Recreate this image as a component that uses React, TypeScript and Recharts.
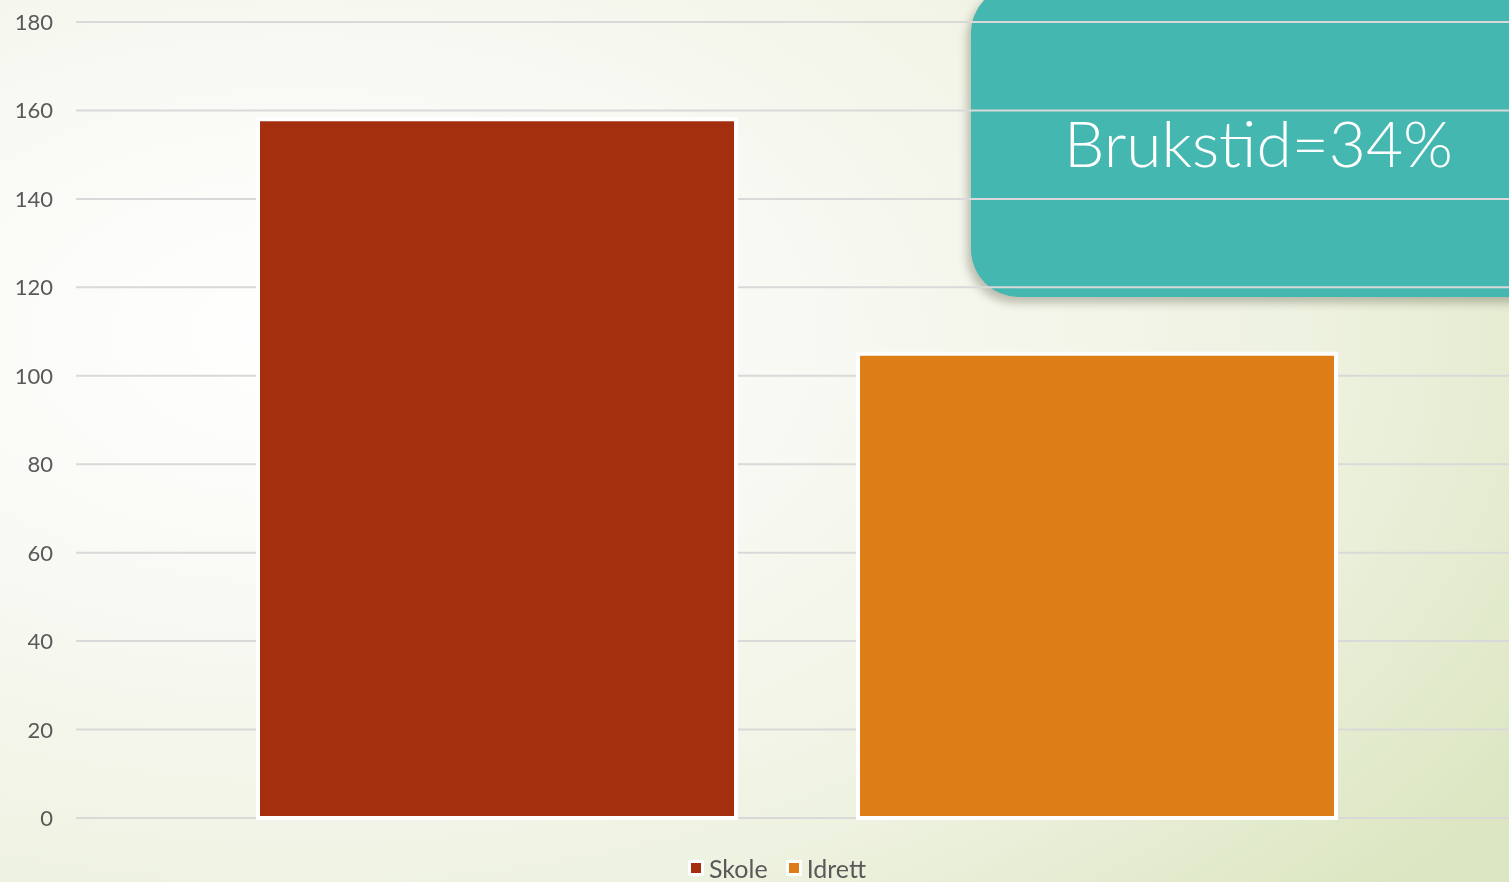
import { BarChart, Bar, YAxis, XAxis, CartesianGrid, Legend } from 'recharts'

const CATEGORIES = ['Brukstid']
const SKOLE = [158]
const IDRETT = [105]
const Y_TICKS = [0, 20, 40, 60, 80, 100, 120, 140, 160, 180]
const SERIES = [
  { key: 'skole', name: 'Skole', color: '#A42F0F' },
  { key: 'idrett', name: 'Idrett', color: '#DD7D18' },
]
const CALLOUT = 'Brukstid=34%'

const FONT = 'Lato, "Open Sans", sans-serif'

const data = CATEGORIES.map((c, i) => ({ name: c, skole: SKOLE[i], idrett: IDRETT[i] }))

function YTick(props: any) {
  const { y, payload } = props
  return (
    <text x={53} y={y} dy={8} textAnchor="end" fill="#595959" fontSize={22} fontFamily={FONT}>
      {payload.value}
    </text>
  )
}

function LegendBox() {
  return (
    <div style={{ display: 'flex', alignItems: 'center', gap: 18, fontFamily: FONT, fontSize: 25, color: '#595959' }}>
      {SERIES.map((s) => (
        <div key={s.key} style={{ display: 'flex', alignItems: 'center', gap: 5 }}>
          <span style={{ width: 10, height: 10, background: s.color, border: '3px solid #fff', display: 'inline-block' }} />
          <span>{s.name}</span>
        </div>
      ))}
    </div>
  )
}

export default function App() {
  return (
    <div
      style={{
        position: 'fixed',
        left: 0,
        top: 0,
        width: 1509,
        height: 882,
        overflow: 'hidden',
        background: 'radial-gradient(ellipse 95% 95% at 20% 38%, #ffffff 0%, #f8f9f3 35%, #eef2e0 70%, #dce6c2 100%)',
      }}
    >
      <div
        style={{
          position: 'absolute',
          left: 971,
          top: -15,
          width: 600,
          height: 312,
          borderRadius: 48,
          background: '#45B7B1',
          boxShadow: '-4px 6px 9px rgba(60,60,40,0.3)',
        }}
      >
        <div
          style={{
            position: 'absolute',
            left: 93,
            top: 126,
            color: '#ffffff',
            fontFamily: FONT,
            fontWeight: 300,
            fontSize: 64,
            lineHeight: 1,
            whiteSpace: 'nowrap',
          }}
        >
          {CALLOUT}
        </div>
      </div>
      <div style={{ position: 'absolute', left: 0, top: 0 }}>
        <BarChart
          width={1517}
          height={882}
          data={data}
          margin={{ top: 22, right: 0, bottom: 34, left: 0 }}
          barSize={478}
          barGap={122}
        >
          <CartesianGrid vertical={false} stroke="#d9d9d9" strokeWidth={2} />
          <XAxis dataKey="name" hide />
          <YAxis
            domain={[0, 180]}
            ticks={Y_TICKS}
            width={76}
            axisLine={false}
            tickLine={false}
            tick={<YTick />}
          />
          <Legend
            content={<LegendBox />}
            wrapperStyle={{ position: 'absolute', left: 688, top: 853, width: 'auto', bottom: 'auto' }}
          />
          {SERIES.map((s) => (
            <Bar
              key={s.key}
              dataKey={s.key}
              name={s.name}
              fill={s.color}
              stroke="#ffffff"
              strokeWidth={4}
              isAnimationActive={false}
            />
          ))}
        </BarChart>
      </div>
    </div>
  )
}
